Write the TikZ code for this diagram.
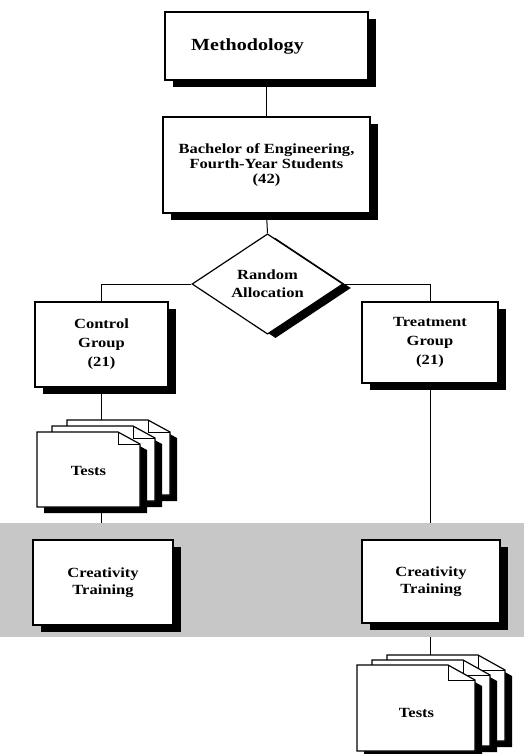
\documentclass[tikz,border=0pt]{standalone}
\usepackage{fontspec}
\setmainfont{Liberation Serif}[FakeStretch=1.18]
\usetikzlibrary{shapes.geometric,shadows,backgrounds}
\tikzset{
  shadowed/.style={drop shadow={shadow xshift=8pt, shadow yshift=-7pt, fill=black, opacity=1}},
  box/.style={draw, line width=1.6pt, fill=white, align=center, inner sep=0pt, shadowed,
    font=\bfseries\fontsize{14}{19}\selectfont},
  conn/.style={line width=1pt},
  pagetext/.style={font=\bfseries\fontsize{14}{17}\selectfont, inner sep=0pt}
}
% x, y, width, height, fold x, fold y
\newcommand\docpage[6]{%
  \fill[black] ({#1+7},{#2+6}) -- ({#1+7+#3-#5},{#2+6}) -- ({#1+7+#3},{#2+6+#6}) -- ({#1+7+#3},{#2+6+#4}) -- ({#1+7},{#2+6+#4}) -- cycle;
  \filldraw[fill=white, line width=1.2pt] (#1,#2) -- ({#1+#3-#5},#2) -- ({#1+#3},{#2+#6}) -- ({#1+#3},{#2+#4}) -- (#1,{#2+#4}) -- cycle;
  \draw[line width=0.9pt] ({#1+#3-#5},#2) -- ({#1+#3-#5},{#2+#6}) -- ({#1+#3},{#2+#6});
}
\begin{document}
\begin{tikzpicture}[x=1pt,y=-1pt]
\useasboundingbox (0,0) rectangle (524,754);

% boxes
\node[box, minimum width=203pt, minimum height=68pt, font=\bfseries\fontsize{17}{20}\selectfont] (meth) at (266.5,46) {Methodology\hspace*{38pt}};
\node[box, minimum width=207pt, minimum height=96pt, font=\bfseries\fontsize{14}{15}\selectfont] (bach) at (266.5,165) {Bachelor of Engineering,\\Fourth-Year Students\\(42)};
\node[diamond, draw, line width=1.2pt, fill=white, minimum width=151pt, minimum height=94pt, inner sep=0pt, align=center,
  drop shadow={shadow xshift=8pt, shadow yshift=-4pt, fill=black, opacity=1},
  font=\bfseries\fontsize{14}{18}\selectfont] (dia) at (267.5,284) {Random\\Allocation};
\node[box, minimum width=133pt, minimum height=85pt] (ctrl) at (101.5,344.5) {Control\\Group\\(21)};
\node[box, minimum width=136pt, minimum height=81pt] (treat) at (430,342.5) {Treatment\\Group\\(21)};

% grey band and connectors
\begin{pgfonlayer}{background}
  \fill[black!22] (0,523) rectangle (524,637);
  \coordinate (ltop) at (101.5,420);
  \coordinate (lbot) at (101.5,507);
  \coordinate (bandL) at (101.5,523);
  \coordinate (bandR) at (430,523);
  \coordinate (bandRb) at (430,637);
  \coordinate (rtop) at (430,655);
  \draw[conn] (meth.south) -- (bach.north);
  \draw[conn] (bach.south) -- (dia.north);
  \draw[conn] (dia.west) -| (ctrl.north);
  \draw[conn] (dia.east) -| (treat.north);
  \draw[conn] (ctrl.south) -- (ltop);
  \draw[conn] (lbot) -- (bandL);
  \draw[conn] (treat.south) -- (bandR);
  \draw[conn] (bandRb) -- (rtop);
\end{pgfonlayer}

\node[box, minimum width=140pt, minimum height=85pt, font=\bfseries\fontsize{14}{17}\selectfont] (crL) at (103,582.5) {Creativity\\Training};
\node[box, minimum width=138pt, minimum height=83pt, font=\bfseries\fontsize{14}{17}\selectfont] (crR) at (431,581.5) {Creativity\\Training};

% left test stack
\docpage{67}{420}{103}{75}{22}{12}
\docpage{52}{426}{103}{75}{22}{12}
\docpage{37}{432}{103}{75}{22}{12}
\node[pagetext] (testsL) at (88.5,471) {Tests};

% right test stack
\docpage{387}{655}{118}{86}{27}{15}
\docpage{372}{660}{118}{86}{27}{15}
\docpage{357}{665}{118}{86}{27}{15}
\node[pagetext] (testsR) at (416.5,713) {Tests};
\end{tikzpicture}
\end{document}
